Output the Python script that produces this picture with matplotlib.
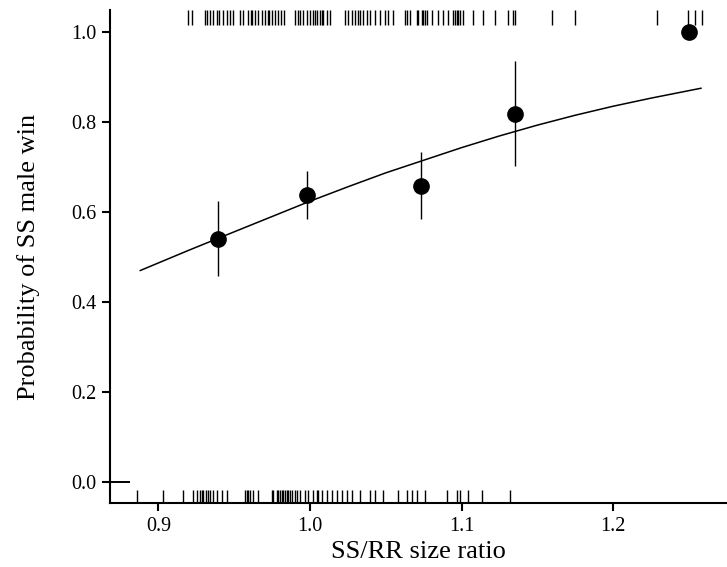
import numpy as np
import matplotlib
matplotlib.use('Agg')
import matplotlib.pyplot as plt

plt.rcParams['font.family'] = ['Liberation Serif', 'DejaVu Serif']

# binned means with error bars
bin_x = [0.939, 0.998, 1.073, 1.135, 1.250]
bin_p = [0.540, 0.638, 0.658, 0.818, 1.000]
err_lo = [0.458, 0.585, 0.584, 0.702, 1.000]
err_hi = [0.624, 0.690, 0.733, 0.935, 1.000]

# fitted curve
fit_x = [0.888, 0.92, 0.95, 1.00, 1.025, 1.05, 1.10, 1.125, 1.15, 1.175, 1.20, 1.225, 1.258]
fit_p = [0.470, 0.515, 0.556, 0.624, 0.656, 0.687, 0.743, 0.769, 0.793, 0.815, 0.835, 0.853, 0.875]

# individual contests: SS wins (top rug) and losses (bottom rug)
wins = [0.9197, 0.9219, 0.9307, 0.9322, 0.9340, 0.9358, 0.9384, 0.9399, 0.9428, 0.9450,
        0.9472, 0.9494, 0.9538, 0.9560, 0.959, 0.961, 0.962, 0.964, 0.966, 0.968, 0.970,
        0.972, 0.973, 0.975, 0.977, 0.979, 0.981, 0.983, 0.9901, 0.9923, 0.9934, 0.9956,
        0.9978, 1.0000, 1.0022, 1.0033, 1.0044, 1.0066, 1.0077, 1.0088, 1.0110, 1.0132,
        1.0231, 1.0253, 1.0275, 1.0297, 1.0319, 1.0330, 1.0352, 1.0374, 1.0396, 1.0429,
        1.0462, 1.0495, 1.0517, 1.0550, 1.0627, 1.0640, 1.0660, 1.0706, 1.0713, 1.0739,
        1.0746, 1.0759, 1.0772, 1.0805, 1.0845, 1.0878, 1.0911, 1.0944, 1.0957, 1.0970,
        1.0977, 1.0990, 1.1010, 1.1076, 1.1142, 1.1221, 1.1307, 1.1340, 1.1353, 1.1597,
        1.1749, 1.2290, 1.2495, 1.2541, 1.2587]
losses = [0.8860, 0.9032, 0.9164, 0.9230, 0.9252, 0.9274, 0.9285, 0.9296, 0.9314, 0.9329,
          0.9340, 0.9362, 0.9384, 0.9417, 0.9450, 0.9571, 0.9582, 0.9593, 0.9604, 0.9626,
          0.9659, 0.9747, 0.9758, 0.9780, 0.9791, 0.9802, 0.9813, 0.9824, 0.9835, 0.9846,
          0.9857, 0.9868, 0.9879, 0.9901, 0.9912, 0.9934, 0.9967, 0.9989, 1.0022, 1.0044,
          1.0055, 1.0077, 1.0110, 1.0143, 1.0176, 1.0209, 1.0242, 1.0275, 1.0330, 1.0396,
          1.0429, 1.0484, 1.0583, 1.0638, 1.0671, 1.0704, 1.0759, 1.0902, 1.0968, 1.0990,
          1.1045, 1.1133, 1.1320]

x_ticks = [0.9, 1.0, 1.1, 1.2]
y_ticks = [0.0, 0.2, 0.4, 0.6, 0.8, 1.0]

fig = plt.figure(figsize=(7.27, 5.67), dpi=100)
ax = fig.add_axes([110 / 727, 64 / 567, 617 / 727, 493 / 567])

ax.set_xlim(0.868, 1.2752)
ax.set_ylim(-0.0467, 1.0489)

ax.plot(fit_x, fit_p, color='black', lw=1.1)

yerr = [np.array(bin_p) - np.array(err_lo), np.array(err_hi) - np.array(bin_p)]
ax.errorbar(bin_x, bin_p, yerr=yerr, fmt='o', color='black', ms=11,
            elinewidth=1.0, capsize=0)

# rugs
tr = ax.get_xaxis_transform()
ax.vlines(losses, 0, 0.027, transform=tr, color='black', lw=1.0)
ax.vlines(wins, 1 - 0.031, 1, transform=tr, color='black', lw=1.0)

# short segment at y = 0 next to the axis
x0 = ax.get_xlim()[0]
ax.hlines(0, x0, x0 + 0.013, color='black', lw=1.4)

for side in ['top', 'right']:
    ax.spines[side].set_visible(False)
for side in ['left', 'bottom']:
    ax.spines[side].set_linewidth(1.5)

ax.set_xticks(x_ticks)
ax.set_xticklabels(['0.9', '1.0', '1.1', '1.2'])
ax.set_yticks(y_ticks)
ax.set_yticklabels(['0.0', '0.2', '0.4', '0.6', '0.8', '1.0'])
ax.tick_params(axis='both', direction='out', length=6, width=1.5, labelsize=14.5, pad=4)

ax.set_xlabel('SS/RR size ratio', fontsize=19, labelpad=4)
ax.set_ylabel('Probability of SS male win', fontsize=19, labelpad=22)

fig.savefig('out.png', dpi=100)
